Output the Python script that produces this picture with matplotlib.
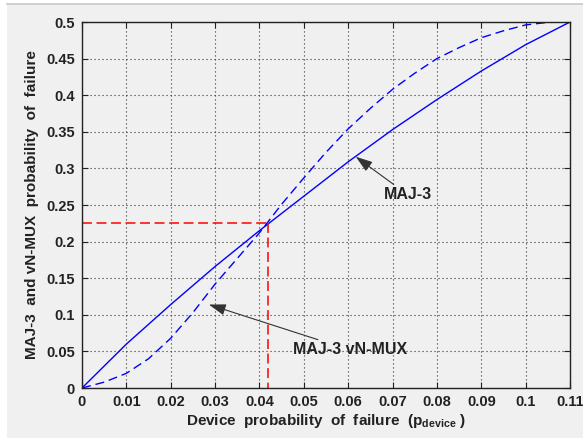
from matplotlib import pyplot as plt
from matplotlib.patches import Rectangle
from matplotlib.lines import Line2D

plt.rcParams['font.family'] = ['Liberation Sans', 'DejaVu Sans']
plt.rcParams['font.weight'] = 'bold'
plt.rcParams['axes.labelweight'] = 'bold'
plt.rcParams['mathtext.fontset'] = 'custom'
plt.rcParams['mathtext.bf'] = 'Liberation Sans:bold'
plt.rcParams['mathtext.rm'] = 'Liberation Sans:bold'

# MAJ-3 (solid)
maj3_p = [0, 0.01, 0.02, 0.03, 0.04, 0.05, 0.06, 0.07, 0.08, 0.09, 0.10, 0.11]
maj3_f = [0, 0.060, 0.114, 0.166, 0.215, 0.262, 0.309, 0.353, 0.394, 0.433, 0.469, 0.5]

# MAJ-3 vN-MUX (dashed)
mux_p = [0, 0.005, 0.01, 0.015, 0.02, 0.025, 0.03, 0.035, 0.04, 0.045, 0.05, 0.055,
         0.06, 0.065, 0.07, 0.075, 0.08, 0.085, 0.09, 0.095, 0.10, 0.105, 0.11]
mux_f = [0, 0.008, 0.020, 0.040, 0.068, 0.103, 0.142, 0.177, 0.212, 0.251, 0.287, 0.322,
         0.354, 0.382, 0.408, 0.430, 0.450, 0.465, 0.4785, 0.488, 0.496, 0.4995, 0.5]

cross_p = 0.042
cross_f = 0.226

xticks = [0, 0.01, 0.02, 0.03, 0.04, 0.05, 0.06, 0.07, 0.08, 0.09, 0.1, 0.11]
xlabels = ['0', '0.01', '0.02', '0.03', '0.04', '0.05', '0.06', '0.07', '0.08', '0.09', '0.1', '0.11']
yticks = [0, 0.05, 0.1, 0.15, 0.2, 0.25, 0.3, 0.35, 0.4, 0.45, 0.5]
ylabels = ['0', '0.05', '0.1', '0.15', '0.2', '0.25', '0.3', '0.35', '0.4', '0.45', '0.5']

bg = '#f0f0f0'
fig = plt.figure(figsize=(5.83, 4.4), dpi=100, facecolor='white')
fig.patches.append(Rectangle((7 / 583, 2 / 440), 1, 434 / 440, transform=fig.transFigure,
                             facecolor=bg, edgecolor='none', zorder=-10))
fig.lines.append(Line2D([7 / 583, 1], [436 / 440, 436 / 440], transform=fig.transFigure,
                        color='#c8c8c8', lw=1.2))

ax = fig.add_axes([82 / 583, 1 - 388 / 440, 488 / 583, 366 / 440])
ax.set_facecolor(bg)

ax.plot(maj3_p, maj3_f, color='#0000ff', lw=1.0)
ax.plot(mux_p, mux_f, color='#0000ff', lw=1.0, dashes=(6.5, 3.5))
ax.plot([0, cross_p], [cross_f, cross_f], color='#ff0000', lw=1.1, dashes=(6.5, 3))
ax.plot([cross_p, cross_p], [cross_f, 0], color='#ff0000', lw=1.1, dashes=(6.5, 3))

ax.set_xlim(0, 0.11)
ax.set_ylim(0, 0.5)
ax.set_xticks(xticks)
ax.set_xticklabels(xlabels)
ax.set_yticks(yticks)
ax.set_yticklabels(ylabels)
ax.tick_params(direction='in', top=True, right=True, length=4, width=0.8,
               labelsize=10.5, colors='#222222', pad=5)
for s in ax.spines.values():
    s.set_linewidth(1.0)
    s.set_color('#222222')
ax.grid(True, color='#333333', lw=0.8, linestyle=(0, (1, 2.6)))

ax.set_xlabel(r'Device  probability  of  failure  ($\mathbf{p}_{\mathbf{device}}$ )',
              fontsize=11, color='#222222', labelpad=2)
ax.set_ylabel('MAJ-3  and vN-MUX  probability  of  failure',
              fontsize=11, color='#222222', labelpad=5)

arrow = dict(arrowstyle='-|>,head_length=0.9,head_width=0.3', color='#333333',
             lw=0.8, shrinkA=0, shrinkB=0)
ax.annotate('MAJ-3', xy=(0.0617, 0.316), xytext=(0.0680, 0.264),
            fontsize=11.5, fontweight='bold', color='#222222', va='center', ha='left',
            arrowprops=arrow)
ax.annotate('MAJ-3 vN-MUX', xy=(0.0286, 0.114), xytext=(0.0475, 0.052),
            fontsize=11.5, fontweight='bold', color='#222222', va='center', ha='left',
            arrowprops=arrow)

fig.savefig('out.png', dpi=100, facecolor=fig.get_facecolor())
